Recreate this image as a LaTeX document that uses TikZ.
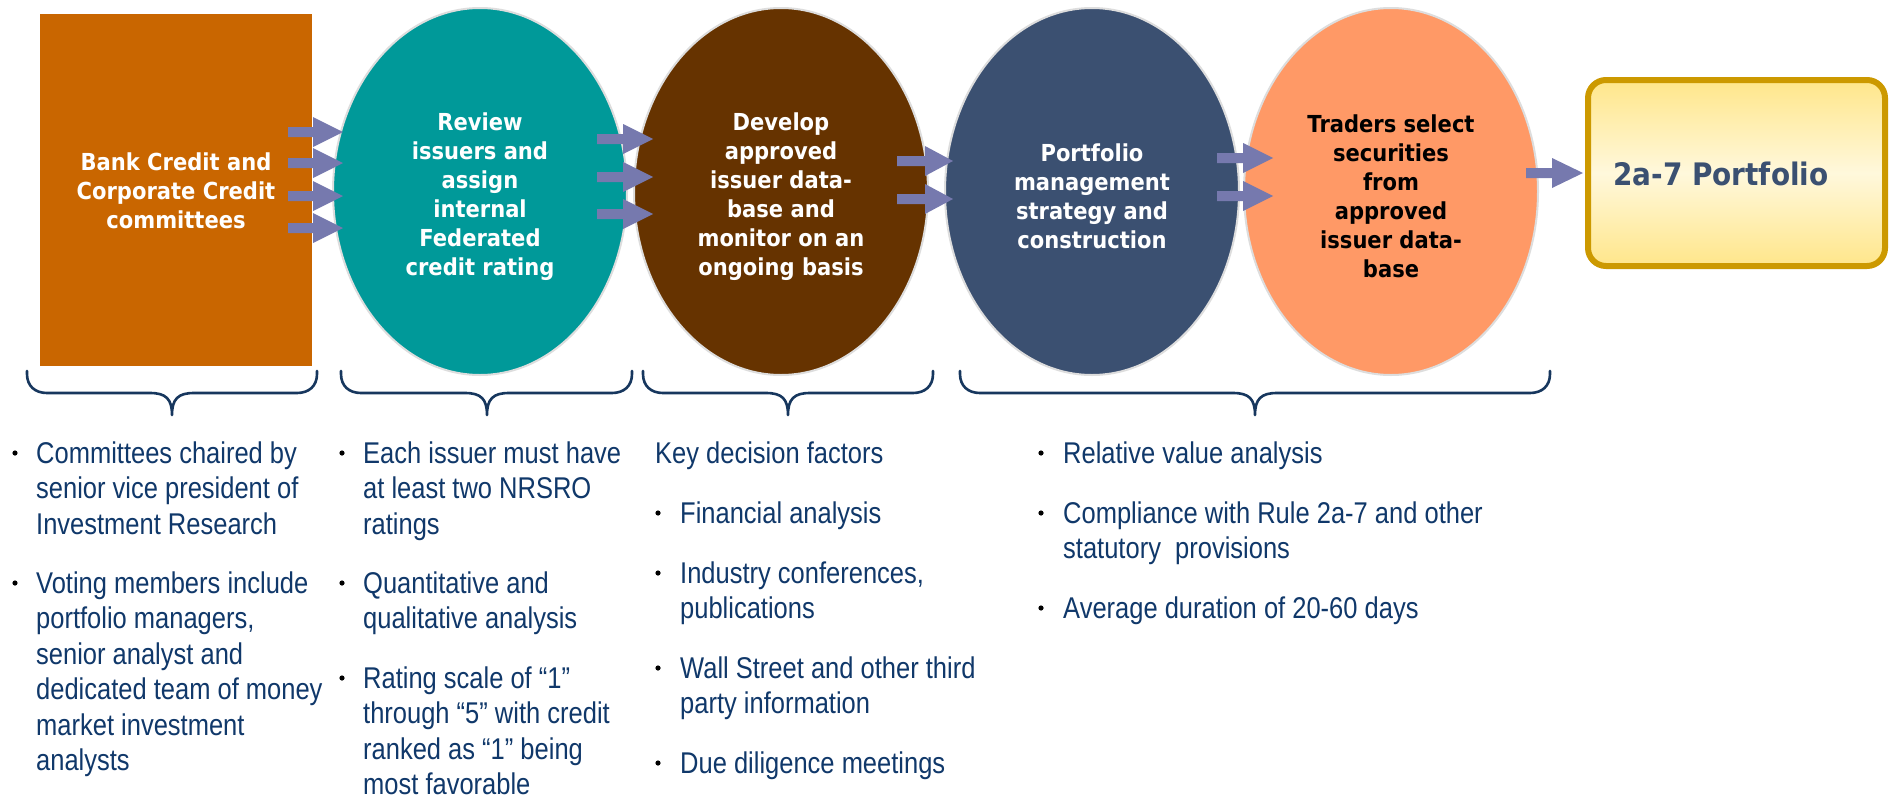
\documentclass[tikz,border=0pt]{standalone}
\usepackage{fontspec}
\usetikzlibrary{shapes.geometric}
\newfontfamily\boxfont{DejaVu Sans}[FakeStretch=0.9]
\newfontfamily\listfont{Liberation Sans}[FakeStretch=0.85]
\definecolor{cOrange}{HTML}{C96600}
\definecolor{cTeal}{HTML}{009999}
\definecolor{cBrown}{HTML}{663300}
\definecolor{cNavyE}{HTML}{3B5071}
\definecolor{cSalmon}{HTML}{FF9966}
\definecolor{cArrow}{HTML}{7679AE}
\definecolor{cGold}{HTML}{CC9900}
\definecolor{cYel}{HTML}{FFE68A}
\definecolor{cYelL}{HTML}{FFF8DC}
\definecolor{cText}{HTML}{10386A}
\definecolor{cBrace}{HTML}{17375E}
\definecolor{cRim}{HTML}{DDDDDD}
\newcommand\blockarrow[4]{%
  \fill[cArrow] (#1,#2-5) -- ++(#3,0) -- ++(0,-10) -- ++(#4,15) -- ++(-#4,15) -- ++(0,-10) -- ++(-#3,0) -- cycle;}
\newcommand\curlybrace[3]{%
  \draw[bracestyle] (#1,371) -- (#1,374) .. controls (#1,386) and (#1+8,393) .. (#1+20,393) -- (#3-22,393)
    .. controls (#3-6,393) and (#3,399) .. (#3,415) .. controls (#3,399) and (#3+6,393) .. (#3+22,393)
    -- (#2-20,393) .. controls (#2-8,393) and (#2,386) .. (#2,374) -- (#2,371);}
\begin{document}
\begin{tikzpicture}[x=1pt,y=-1pt,
  stage/.style={ellipse, minimum width=294pt, minimum height=367pt, inner sep=0pt, draw=cRim, line width=2pt},
  stagetext/.style={align=center, inner sep=0pt, text=white, font=\boxfont\bfseries\fontsize{23.4}{29}\selectfont},
  bracestyle/.style={draw=cBrace, line width=2.6pt, line cap=round, line join=round},
  item/.style={anchor=base west, align=left, inner sep=0pt, text=cText, font=\listfont\fontsize{30}{35.5}\selectfont},
  bul/.style={fill=black}]
\useasboundingbox (0,0) rectangle (1891,798);
\fill[white] (0,0) rectangle (1891,798);
% shapes
\node[rectangle, fill=cOrange, minimum width=272pt, minimum height=352pt, inner sep=0pt] (bank) at (176,190) {};
\node[stage, fill=cTeal] (review) at (480,191.5) {};
\node[stage, fill=cBrown] (develop) at (781,191.5) {};
\node[stage, fill=cNavyE] (strategy) at (1092,191.5) {};
\node[stage, fill=cSalmon] (traders) at (1391,191.5) {};
\node[rectangle, rounded corners=18pt, draw=cGold, line width=6pt, top color=cYel, bottom color=cYel, middle color=cYelL, minimum width=297pt, minimum height=186pt] (port) at (1736.5,173) {};
% arrows
\blockarrow{288}{132}{25}{30}
\blockarrow{288}{163}{25}{30}
\blockarrow{288}{196}{25}{30}
\blockarrow{288}{228}{25}{30}
\blockarrow{597}{139}{26}{30}
\blockarrow{597}{177}{26}{30}
\blockarrow{597}{214}{26}{30}
\blockarrow{897}{161}{28}{28}
\blockarrow{897}{199}{28}{28}
\blockarrow{1217}{158}{26}{30}
\blockarrow{1217}{196}{26}{30}
\blockarrow{1526}{173}{26}{31}
% texts in shapes
\node[stagetext, yshift=-1pt] (bank-t) at (bank) {Bank Credit and\\Corporate Credit\\committees};
\node[stagetext, yshift=-5pt] (review-t) at (review) {Review\\issuers and\\assign\\internal\\Federated\\credit rating};
\node[stagetext, yshift=-5pt] (develop-t) at (develop) {Develop\\approved\\issuer data-\\base and\\monitor on an\\ongoing basis};
\node[stagetext, yshift=-5pt] (strategy-t) at (strategy) {Portfolio\\management\\strategy and\\construction};
\node[stagetext, yshift=-5pt, text=black] (traders-t) at (traders) {Traders select\\securities\\from\\approved\\issuer data-\\base};
\node[anchor=base west, inner sep=0pt, text=cNavyE, font=\boxfont\bfseries\fontsize{31}{36}\selectfont] (port-t) at (1613,185) {2a-7 Portfolio};
% braces
\curlybrace{27}{317}{172}
\curlybrace{341}{632}{487}
\curlybrace{643}{933}{788}
\curlybrace{960}{1550}{1255}
% column 1 (node base = baseline of last line)
\fill[bul] (15,453) circle (2.6pt);
\node[item] (c1a) at (36,534) {Committees chaired by\\senior vice president of\\Investment Research};
\fill[bul] (15,583) circle (2.6pt);
\node[item] (c1b) at (36,770.5) {Voting members include\\portfolio managers,\\senior analyst and\\dedicated team of money\\market investment\\analysts};
% column 2
\fill[bul] (342,453) circle (2.6pt);
\node[item] (c2a) at (363,534) {Each issuer must have\\at least two NRSRO\\ratings};
\fill[bul] (342,583) circle (2.6pt);
\node[item] (c2b) at (363,628.5) {Quantitative and\\qualitative analysis};
\fill[bul] (342,678) circle (2.6pt);
\node[item] (c2c) at (363,794.5) {Rating scale of “1”\\through “5” with credit\\ranked as “1” being\\most favorable};
% column 3
\node[item] (c3h) at (655,463) {Key decision factors};
\fill[bul] (658,513) circle (2.6pt);
\node[item] (c3a) at (680,523) {Financial analysis};
\fill[bul] (658,573) circle (2.6pt);
\node[item] (c3b) at (680,618.5) {Industry conferences,\\publications};
\fill[bul] (658,668) circle (2.6pt);
\node[item] (c3c) at (680,713.5) {Wall Street and other third\\party information};
\fill[bul] (658,763) circle (2.6pt);
\node[item] (c3d) at (680,773) {Due diligence meetings};
% column 4
\fill[bul] (1041,453) circle (2.6pt);
\node[item] (c4a) at (1063,463) {Relative value analysis};
\fill[bul] (1041,513) circle (2.6pt);
\node[item] (c4b) at (1063,558.5) {Compliance with Rule 2a-7 and other\\statutory\ \ provisions};
\fill[bul] (1041,608) circle (2.6pt);
\node[item] (c4c) at (1063,618) {Average duration of 20-60 days};
\end{tikzpicture}
\end{document}
